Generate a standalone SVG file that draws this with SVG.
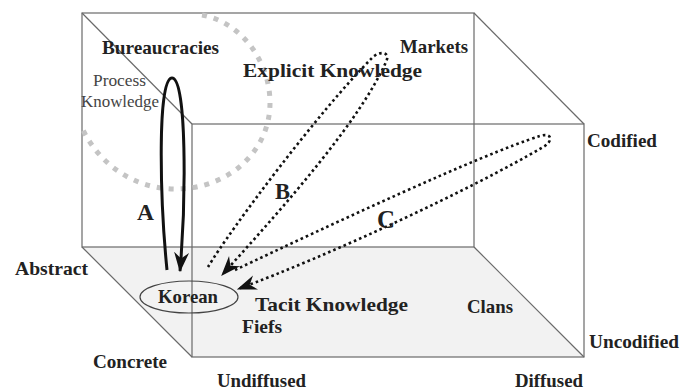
<svg xmlns="http://www.w3.org/2000/svg" width="693" height="391" viewBox="0 0 693 391">
<defs>
<style>
.edge{stroke:#6a6a6a;stroke-width:1.2;fill:none}
.lbl{font-family:"Liberation Serif","Times New Roman",serif;font-weight:bold;font-size:19px;fill:#222}
.reg{font-family:"Liberation Serif","Times New Roman",serif;font-size:17px;fill:#444}
.letter{font-family:"Liberation Serif","Times New Roman",serif;font-weight:bold;fill:#222}
.dot{stroke:#111;stroke-width:2.6;fill:none;stroke-dasharray:2.6 3}
.solid{stroke:#111;stroke-width:3;fill:none}
</style>
<marker id="dart" markerUnits="userSpaceOnUse" markerWidth="20" markerHeight="16" viewBox="0 0 16 12" refX="15" refY="6" orient="auto">
<path d="M0,0 L16,6 L0,12 L5,6 z" fill="#111"/>
</marker>
</defs>
<g id="box">
<polygon points="82,247 474,247 584,357 192,357" fill="#f2f2f2"/>
<rect class="edge" x="82" y="13" width="392" height="234"/>
<rect class="edge" x="192" y="124" width="392" height="233"/>
<line class="edge" x1="82" y1="13" x2="192" y2="124"/>
<line class="edge" x1="474" y1="13" x2="584" y2="124"/>
<line class="edge" x1="82" y1="247" x2="192" y2="357"/>
<line class="edge" x1="474" y1="247" x2="584" y2="357"/>
</g>
<g id="process-knowledge-area">
<path d="M202,15 C240,22 270,60 270,103 C270,150 230,189 175,189 C135,189 100,165 83,130" fill="none" stroke="#c4c4c4" stroke-width="5" stroke-dasharray="5 7"/>
<text class="reg" x="93" y="86" textLength="53" lengthAdjust="spacingAndGlyphs">Process</text>
<text class="reg" x="81" y="107" textLength="78" lengthAdjust="spacingAndGlyphs">Knowledge</text>
</g>
<g id="connectors">
<path id="loopA" class="solid" d="M167,270 C160,200 157,78 172,78 C187,78 186,200 180,271" marker-end="url(#dart)"/>
<path id="loopB" class="dot" d="M208,267 C230,230 320,110 372,58 C380,50 391,52 386,62 C360,120 290,200 222,275" marker-end="url(#dart)"/>
<path id="loopC" class="dot" d="M235,270 C330,225 480,155 540,136 C553,132 553,142 543,147 C470,190 330,255 238,289" marker-end="url(#dart)"/>
</g>
<g id="labels-letters">
<text class="letter" x="137" y="220" font-size="24" textLength="17" lengthAdjust="spacingAndGlyphs">A</text>
<text class="letter" x="275" y="199" font-size="24" textLength="15" lengthAdjust="spacingAndGlyphs">B</text>
<text class="letter" x="377" y="228" font-size="25" textLength="18" lengthAdjust="spacingAndGlyphs">C</text>
</g>
<g id="node-korean">
<ellipse cx="189" cy="297" rx="49" ry="16" fill="none" stroke="#444" stroke-width="1.2"/>
<text class="lbl" x="158" y="303" textLength="60" lengthAdjust="spacingAndGlyphs">Korean</text>
</g>
<g id="node-bureaucracies"><text class="lbl" x="102" y="54" font-size="18" textLength="117" lengthAdjust="spacingAndGlyphs">Bureaucracies</text></g>
<g id="node-markets"><text class="lbl" x="400" y="53" textLength="68" lengthAdjust="spacingAndGlyphs">Markets</text></g>
<g id="node-fiefs"><text class="lbl" x="242" y="333" textLength="40" lengthAdjust="spacingAndGlyphs">Fiefs</text></g>
<g id="node-clans"><text class="lbl" x="467" y="313" textLength="46" lengthAdjust="spacingAndGlyphs">Clans</text></g>
<g id="axis-labels">
<text class="lbl" x="243" y="77" font-size="21" textLength="179" lengthAdjust="spacingAndGlyphs">Explicit Knowledge</text>
<text class="lbl" x="255" y="311" font-size="21" textLength="153" lengthAdjust="spacingAndGlyphs">Tacit Knowledge</text>
<text class="lbl" x="587" y="147" textLength="70" lengthAdjust="spacingAndGlyphs">Codified</text>
<text class="lbl" x="589" y="348" textLength="90" lengthAdjust="spacingAndGlyphs">Uncodified</text>
<text class="lbl" x="15" y="275" textLength="73" lengthAdjust="spacingAndGlyphs">Abstract</text>
<text class="lbl" x="93" y="368" textLength="74" lengthAdjust="spacingAndGlyphs">Concrete</text>
<text class="lbl" x="217" y="387" textLength="89" lengthAdjust="spacingAndGlyphs">Undiffused</text>
<text class="lbl" x="515" y="387" textLength="68" lengthAdjust="spacingAndGlyphs">Diffused</text>
</g>
</svg>
